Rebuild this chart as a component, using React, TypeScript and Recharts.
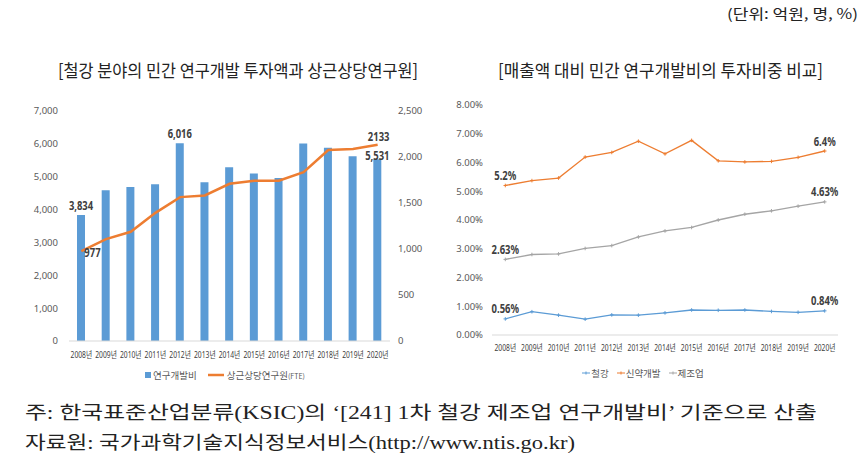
import { ComposedChart, LineChart, Bar, Line, XAxis, YAxis, Legend, LabelList } from 'recharts'

const years = ['2008년', '2009년', '2010년', '2011년', '2012년', '2013년', '2014년', '2015년', '2016년', '2017년', '2018년', '2019년', '2020년']

// 좌측: 연구개발비(억원), 상근상당연구원(명)
const rdSpend = [3834, 4590, 4690, 4770, 6016, 4830, 5290, 5100, 4960, 6010, 5880, 5620, 5531]
const researchers = [977, 1107, 1187, 1393, 1564, 1582, 1709, 1742, 1742, 1836, 2075, 2086, 2133]
const spendTicks = [0, 1000, 2000, 3000, 4000, 5000, 6000, 7000]
const researcherTicks = [0, 500, 1000, 1500, 2000, 2500]

// 우측: 매출액 대비 투자비중(%)
const steelShare = [0.56, 0.81, 0.69, 0.55, 0.7, 0.69, 0.77, 0.87, 0.86, 0.87, 0.82, 0.79, 0.84]
const pharmaShare = [5.2, 5.37, 5.46, 6.19, 6.35, 6.74, 6.3, 6.77, 6.06, 6.02, 6.04, 6.18, 6.4]
const mfgShare = [2.63, 2.8, 2.82, 3.01, 3.11, 3.41, 3.62, 3.74, 4.0, 4.2, 4.32, 4.48, 4.63]
const shareTicks = [0, 1, 2, 3, 4, 5, 6, 7, 8]

const BLUE = '#5B9BD5'
const ORANGE = '#ED7D31'
const GRAY = '#A5A5A5'
const NUM_FONT = "'Noto Sans', 'Noto Sans CJK KR', sans-serif"
const KR_FONT = "'Noto Sans CJK KR', sans-serif"

const leftData = years.map((year, i) => ({ year, spend: rdSpend[i], staff: researchers[i] }))
const rightData = years.map((year, i) => ({ year, steel: steelShare[i], pharma: pharmaShare[i], mfg: mfgShare[i] }))

const last = years.length - 1

// narrow (Excel-like) label width estimate
const narrow = (s: string, digit: number) =>
  s.split('').reduce((w, c) => w + (c === ',' || c === '.' ? digit * 0.48 : c === '%' ? digit * 1.6 : digit), 0)

const BoldLabel = ({ x, y, anchor, text }: { x: number; y: number; anchor: 'start' | 'middle'; text: string }) => (
  <text
    x={x}
    y={y}
    textAnchor={anchor}
    dominantBaseline="central"
    fontFamily={NUM_FONT}
    fontSize={13}
    fontWeight={700}
    fill="#404040"
    textLength={narrow(text, 5.4)}
    lengthAdjust="spacingAndGlyphs"
  >
    {text}
  </text>
)

const spendLabel = (p: any) => {
  const { x, y, width, index, value } = p
  if (index !== 0 && index !== 4 && index !== last) return null
  const dy = index === last ? -4 : -10
  return <BoldLabel x={x + width / 2} y={y + dy} anchor="middle" text={Number(value).toLocaleString('en-US')} />
}

const staffLabel = (p: any) => {
  const { x, y, index, value } = p
  if (index === 0) return <BoldLabel x={x + 3} y={y + 1} anchor="start" text={String(value)} />
  if (index === last) return <BoldLabel x={x + 1} y={y - 9} anchor="middle" text={String(value)} />
  return null
}

const shareLabel = (p: any) => {
  const { x, y, index, value } = p
  if (index !== 0 && index !== last) return null
  return <BoldLabel x={x} y={y - 10.5} anchor="middle" text={`${value}%`} />
}

const crossDot = (color: string) => (p: any) => {
  const { cx, cy, index } = p
  if (cx == null || cy == null) return <g key={index} />
  return (
    <g key={index}>
      <line x1={cx - 1.8} y1={cy} x2={cx + 1.8} y2={cy} stroke={color} strokeWidth={1} />
      <line x1={cx} y1={cy - 1.8} x2={cx} y2={cy + 1.8} stroke={color} strokeWidth={1} />
    </g>
  )
}

// 좁은 글꼴 느낌: 가로로만 눌러 그림
const CatTick = (p: any) => {
  const { x, y, payload } = p
  return (
    <g transform={`translate(${x},${y}) scale(0.75,1)`}>
      <text x={0} y={0} dy="0.71em" textAnchor="middle" fontFamily={NUM_FONT} fontSize={9} fill="#404040">
        {payload.value}
      </text>
    </g>
  )
}

const leftLegend = () => (
  <div style={{ height: 20, display: 'flex', justifyContent: 'center', alignItems: 'center', fontFamily: KR_FONT, fontSize: 9.5, color: '#595959' }}>
    <span style={{ width: 6, height: 6, background: BLUE, display: 'inline-block', marginRight: 2 }} />
    <span>연구개발비</span>
    <svg width={18} height={10} style={{ marginLeft: 10, marginRight: 2 }}>
      <line x1={1} y1={5} x2={17} y2={5} stroke={ORANGE} strokeWidth={2.5} />
    </svg>
    <span>상근상당연구원<span style={{ fontSize: 7 }}>(FTE)</span></span>
  </div>
)

const rightLegend = () => {
  const items = [
    { name: '철강', color: BLUE },
    { name: '신약개발', color: ORANGE },
    { name: '제조업', color: GRAY },
  ]
  return (
    <div style={{ height: 20, display: 'flex', justifyContent: 'center', alignItems: 'center', paddingLeft: 8, fontFamily: KR_FONT, fontSize: 9.5, color: '#595959' }}>
      {items.map((it, i) => (
        <span key={it.name} style={{ display: 'flex', alignItems: 'center', marginLeft: i === 0 ? 0 : 8 }}>
          <svg width={8} height={8} style={{ marginRight: 1 }}>
            <line x1={0} y1={4} x2={8} y2={4} stroke={it.color} strokeWidth={1} />
            <line x1={4} y1={2.5} x2={4} y2={5.5} stroke={it.color} strokeWidth={1} />
          </svg>
          <span>{it.name}</span>
        </span>
      ))}
    </div>
  )
}

const tickText = { fontFamily: NUM_FONT, fontSize: 9.5, fill: '#595959' }

export default function App() {
  return (
    <div style={{ position: 'absolute', left: 0, top: 0, width: 867, height: 474, background: '#fff', overflow: 'hidden' }}>
      <div style={{ position: 'absolute', left: 0, top: 90 }}>
        <ComposedChart width={430} height={300} data={leftData} margin={{ top: 21, right: 0, left: 20, bottom: 5 }}>
          <XAxis
            dataKey="year"
            height={24}
            tick={CatTick}
            tickLine={false}
            tickMargin={5}
            axisLine={{ stroke: '#D9D9D9' }}
            interval={0}
          />
          <YAxis
            yAxisId="left"
            width={49}
            domain={[0, 7000]}
            ticks={spendTicks}
            tick={tickText}
            tickLine={false}
            axisLine={false}
            tickMargin={5}
            tickFormatter={(v: number) => v.toLocaleString('en-US')}
          />
          <YAxis
            yAxisId="right"
            orientation="right"
            width={40}
            domain={[0, 2500]}
            ticks={researcherTicks}
            tick={tickText}
            tickLine={false}
            axisLine={false}
            tickMargin={2}
            tickFormatter={(v: number) => v.toLocaleString('en-US')}
          />
          <Legend verticalAlign="bottom" height={20} content={leftLegend} />
          <Bar yAxisId="left" dataKey="spend" name="연구개발비" fill={BLUE} barSize={8} isAnimationActive={false}>
            <LabelList dataKey="spend" content={spendLabel} />
          </Bar>
          <Line
            yAxisId="right"
            dataKey="staff"
            name="상근상당연구원(FTE)"
            type="linear"
            stroke={ORANGE}
            strokeWidth={2.5}
            dot={false}
            isAnimationActive={false}
          >
            <LabelList dataKey="staff" content={staffLabel} />
          </Line>
        </ComposedChart>
      </div>

      <div style={{ position: 'absolute', left: 440, top: 90 }}>
        <LineChart width={427} height={300} data={rightData} margin={{ top: 15, right: 29, left: 0, bottom: 7 }}>
          <XAxis
            dataKey="year"
            height={28}
            tick={CatTick}
            tickLine={false}
            tickMargin={4}
            axisLine={{ stroke: '#D9D9D9' }}
            interval={0}
            padding={{ left: 13.3, right: 13.3 }}
          />
          <YAxis
            width={52}
            domain={[0, 8]}
            ticks={shareTicks}
            tick={tickText}
            tickLine={false}
            axisLine={false}
            tickMargin={3}
            tickFormatter={(v: number) => `${v.toFixed(2)}%`}
          />
          <Legend verticalAlign="bottom" height={20} content={rightLegend} />
          <Line dataKey="steel" name="철강" type="linear" stroke={BLUE} strokeWidth={1.3} dot={crossDot(BLUE)} isAnimationActive={false}>
            <LabelList dataKey="steel" content={shareLabel} />
          </Line>
          <Line dataKey="pharma" name="신약개발" type="linear" stroke={ORANGE} strokeWidth={1.3} dot={crossDot(ORANGE)} isAnimationActive={false}>
            <LabelList dataKey="pharma" content={shareLabel} />
          </Line>
          <Line dataKey="mfg" name="제조업" type="linear" stroke={GRAY} strokeWidth={1.3} dot={crossDot(GRAY)} isAnimationActive={false}>
            <LabelList dataKey="mfg" content={shareLabel} />
          </Line>
        </LineChart>
      </div>

      <svg width={867} height={474} style={{ position: 'absolute', left: 0, top: 0, pointerEvents: 'none' }}>
        <text x={727} y={13} dominantBaseline="central" fontFamily={KR_FONT} fontSize={14} fill="#222" textLength={131} lengthAdjust="spacingAndGlyphs">
          (단위: 억원, 명, %)
        </text>
        <text x={58} y={69} dominantBaseline="central" fontFamily={KR_FONT} fontSize={17} fill="#222" textLength={360} lengthAdjust="spacingAndGlyphs">
          [철강 분야의 민간 연구개발 투자액과 상근상당연구원]
        </text>
        <text x={498} y={69} dominantBaseline="central" fontFamily={KR_FONT} fontSize={17} fill="#222" textLength={325} lengthAdjust="spacingAndGlyphs">
          [매출액 대비 민간 연구개발비의 투자비중 비교]
        </text>
        <text x={25} y={413} dominantBaseline="central" fontFamily="'Liberation Serif', 'Noto Sans CJK KR', serif" fontSize={18} fill="#222" textLength={792} lengthAdjust="spacingAndGlyphs">
          주: 한국표준산업분류(KSIC)의 ‘[241] 1차 철강 제조업 연구개발비’ 기준으로 산출
        </text>
        <text x={25} y={443} dominantBaseline="central" fontFamily="'Liberation Serif', 'Noto Sans CJK KR', serif" fontSize={18} fill="#222" textLength={550} lengthAdjust="spacingAndGlyphs">
          자료원: 국가과학기술지식정보서비스(http://www.ntis.go.kr)
        </text>
      </svg>
    </div>
  )
}
